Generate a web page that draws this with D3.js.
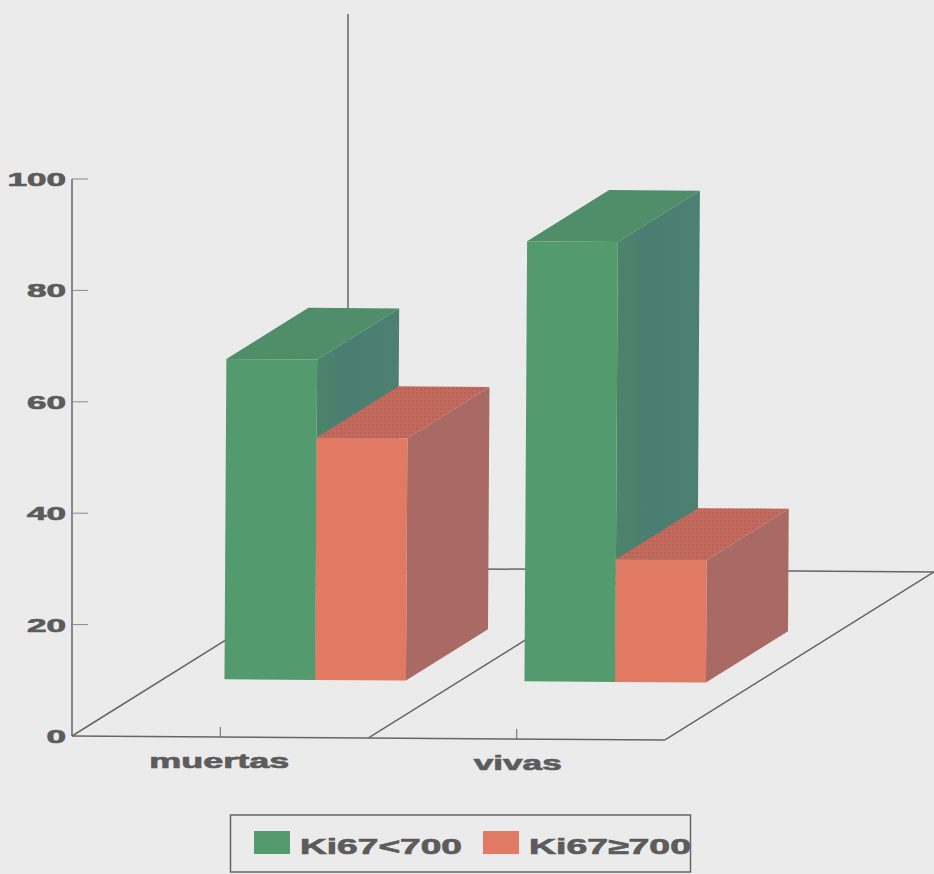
<!DOCTYPE html>
<html>
<head>
<meta charset="utf-8">
<script src="https://cdn.jsdelivr.net/npm/d3@7"></script>
<style>
  html, body { margin: 0; padding: 0; background: #ebebeb; }
  svg { display: block; }
  text { font-family: "Liberation Sans", Arial, sans-serif; font-weight: bold; fill: #5c5c5c; stroke: #5c5c5c; stroke-width: 0.7px; }
</style>
</head>
<body>
<svg id="chart" width="934" height="874"></svg>
<script>
// Percentages per outcome group
const categories = ["muertas", "vivas"];
const seriesNames = ["Ki67<700", "Ki67≥700"];
const lowKi67 = [57.5, 79];
const highKi67 = [43.5, 22];
const yTicks = [0, 20, 40, 60, 80, 100];

const faceColors = [
  { front: "#539a6e", side: "url(#greenSide)", top: "#4f8e69" },
  { front: "#e07a63", side: "#a96a65", top: "#c26b5d" }
];
const seriesValues = [lowKi67, highKi67];

const svg = d3.select("#chart");
const ink = "#666";

// Oblique projection: u runs along the front edge, v is height in px, d is floor depth 0..1
const origin = { x: 72, y: 736 };
const depthVec = { x: 269, y: -168 };
const floorTilt = 0.0067, wallLean = 0.006;
const project = (u, v, d) => [
  origin.x + u + depthVec.x * d + wallLean * v,
  origin.y + floorTilt * u + depthVec.y * d - v
];

const uScale = d3.scaleBand().domain(categories).range([0, 593]);
const barGroupStart = d3.scalePoint().domain(categories).range([61, 361]);
const seriesScale = d3.scaleBand().domain(d3.range(seriesNames.length)).range([0, 181.5]);
const vScale = d3.scaleLinear().domain([0, 100]).range([0, 557]);
const barDepth = { near: 0.34, far: 0.645 };

const defs = svg.append("defs");

// Speckle on the red top face
const speckle = defs.append("pattern").attr("id", "speckle")
  .attr("width", 4).attr("height", 4).attr("patternUnits", "userSpaceOnUse");
speckle.append("rect").attr("width", 4).attr("height", 4).attr("fill", faceColors[1].top);
speckle.append("rect").attr("width", 2).attr("height", 2).attr("fill", "#b9605a");

// Green side faces shift towards blue past the leading edge
const greenSide = defs.append("linearGradient").attr("id", "greenSide");
greenSide.append("stop").attr("offset", 0).attr("stop-color", "#4c8468");
greenSide.append("stop").attr("offset", 0.35).attr("stop-color", "#4a7e72");
greenSide.append("stop").attr("offset", 1).attr("stop-color", "#4c8070");

svg.append("rect").attr("width", 934).attr("height", 874).attr("fill", "#ebebeb");

const line = (a, b, w = 1.5) => svg.append("line")
  .attr("x1", a[0]).attr("y1", a[1]).attr("x2", b[0]).attr("y2", b[1])
  .attr("stroke", ink).attr("stroke-width", w);

// Floor outline, dividers and the rear upright
line(project(0, 0, 0), project(593, 0, 0));
line(project(593, 0, 0), project(593, 0, 1));
line(project(0, 0, 1), project(593, 0, 1));
categories.forEach((c, i) => line(project(uScale(c), 0, 0), project(uScale(c), 0, 1)));
line([348, 14], [348, 568]);

// Value axis on the front left corner
line([72, 179], [72, 736]);
const yAxis = svg.append("g");
yTicks.forEach(t => {
  const y = origin.y - vScale(t);
  if (t > 0) line([72, y], [88, y], 1).attr("stroke", "#8a8a8a");
  yAxis.append("text")
    .attr("x", 66).attr("y", y + 7)
    .attr("text-anchor", "end")
    .attr("font-size", 19)
    .attr("textLength", String(t).length * 19.5)
    .attr("lengthAdjust", "spacingAndGlyphs")
    .text(t);
});

// Category ticks and labels under the front edge
categories.forEach((c, i) => {
  const u = uScale(c) + uScale.bandwidth() / 2;
  const p = project(u, 0, 0);
  line([p[0], p[1] - 10], p, 1);
  svg.append("text")
    .attr("x", p[0] - (i ? -1 : 1)).attr("y", p[1] + 31)
    .attr("text-anchor", "middle")
    .attr("font-size", 21)
    .attr("textLength", c.length * (i ? 17.6 : 20))
    .attr("lengthAdjust", "spacingAndGlyphs")
    .text(c);
});

// Bars: side and top faces first, front face last, left to right
categories.forEach((c, ci) => {
  seriesNames.forEach((s, si) => {
    const u0 = barGroupStart(c) + seriesScale(si);
    const u1 = u0 + seriesScale.bandwidth();
    const v = vScale(seriesValues[si][ci]);
    const { near, far } = barDepth;
    const col = faceColors[si];
    const face = (pts, fill) => svg.append("polygon")
      .attr("points", pts.map(p => p.join(",")).join(" "))
      .attr("fill", fill);
    face([project(u1, 0, near), project(u1, 0, far), project(u1, v, far), project(u1, v, near)], col.side);
    face([project(u0, v, near), project(u1, v, near), project(u1, v, far), project(u0, v, far)],
      si === 1 ? "url(#speckle)" : col.top);
    face([project(u0, 0, near), project(u1, 0, near), project(u1, v, near), project(u0, v, near)], col.front);
  });
});

// Legend
const legend = svg.append("g");
legend.append("rect")
  .attr("x", 230.5).attr("y", 815).attr("width", 460).attr("height", 57)
  .attr("fill", "none").attr("stroke", ink).attr("stroke-width", 1.5);
const legendX = d3.scalePoint().domain(seriesNames).range([254, 483]);
seriesNames.forEach((s, i) => {
  legend.append("rect")
    .attr("x", legendX(s)).attr("y", 831).attr("width", 36).attr("height", 23)
    .attr("fill", faceColors[i].front);
  legend.append("text")
    .attr("x", legendX(s) + 46).attr("y", 854)
    .attr("font-size", 22)
    .attr("textLength", 162)
    .attr("lengthAdjust", "spacingAndGlyphs")
    .text(s);
});
</script>
</body>
</html>
